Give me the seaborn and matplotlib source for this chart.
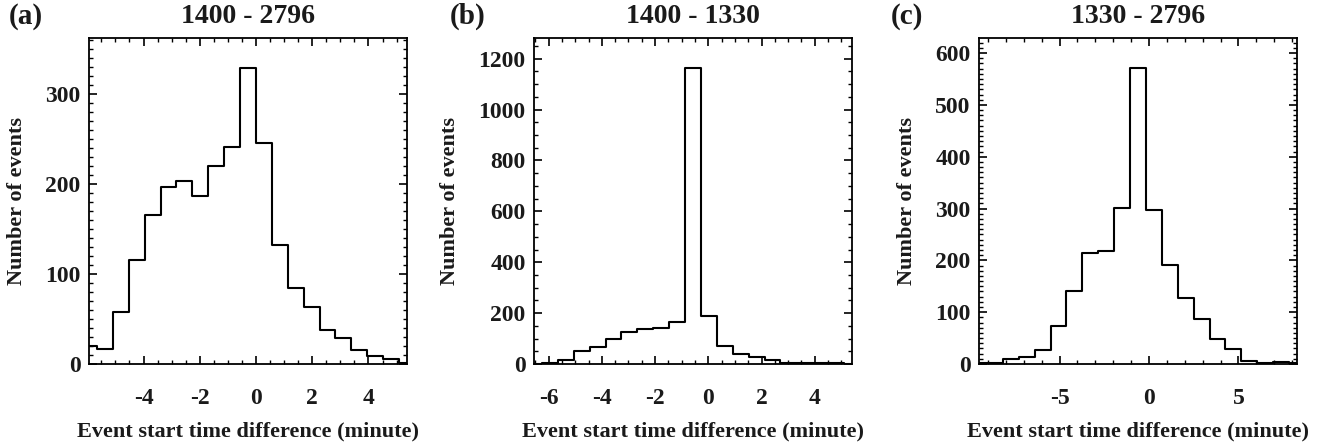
import numpy as np
import pandas as pd
import matplotlib
matplotlib.use("Agg")
import matplotlib.pyplot as plt
from matplotlib.ticker import MultipleLocator
import seaborn as sns

# ---- data (bin centres given by first/last centre, 21 bins each) ----
titles = ["1400 - 2796", "1400 - 1330", "1330 - 2796"]
panel_tags = ["(a)", "(b)", "(c)"]

range_a = (-5.94, 5.37)
counts_a = [20, 17, 58, 116, 165, 196, 203, 187, 220, 241, 329,
            245, 132, 84, 63, 38, 29, 16, 9, 5, 1]

range_b = (-6.55, 5.40)
counts_b = [1, 5, 17, 50, 65, 97, 125, 137, 143, 167, 1165,
            188, 72, 41, 28, 15, 4, 4, 3, 2, 1]

range_c = (-9.50, 8.27)
counts_c = [1, 2, 9, 13, 27, 73, 141, 215, 219, 302, 572,
            298, 191, 128, 86, 49, 28, 5, 1, 4, 1]

x_major = [2, 2, 5]
x_minor = [0.5, 0.5, 1]
y_major = [100, 200, 100]
y_minor = [10, 50, 10]

xlabel = "Event start time difference (minute)"
ylabel = "Number of events"

# ---- style ----
sns.set_style("ticks")
plt.rcParams["font.family"] = ["Liberation Serif", "DejaVu Serif"]
plt.rcParams["font.weight"] = "bold"
plt.rcParams["axes.labelweight"] = "bold"
plt.rcParams["axes.titleweight"] = "bold"
plt.rcParams["axes.unicode_minus"] = False
txt = "#1a1a1a"

fig = plt.figure(figsize=(13.34, 4.45), dpi=100)
W, H = 1334, 445
lefts = [89, 534, 979]
ax_w, ax_top, ax_bot = 318, 38, 364

ranges = [range_a, range_b, range_c]
counts = [counts_a, counts_b, counts_c]
tag_x = [9, 450, 891]

for i in range(3):
    ax = fig.add_axes([lefts[i] / W, 1 - ax_bot / H, ax_w / W, (ax_bot - ax_top) / H])
    lo, hi = ranges[i]
    cnt = np.array(counts[i], dtype=float)
    centres = np.linspace(lo, hi, len(cnt))
    df = pd.DataFrame({"x": centres, "n": cnt})
    sns.lineplot(data=df, x="x", y="n", ax=ax, color="black",
                 drawstyle="steps-mid", linewidth=1.5, sort=True)
    ax.set_xlim(lo, hi)
    ax.set_ylim(0, cnt.max() * 1.1)
    ax.xaxis.set_major_locator(MultipleLocator(x_major[i]))
    ax.xaxis.set_minor_locator(MultipleLocator(x_minor[i]))
    ax.yaxis.set_major_locator(MultipleLocator(y_major[i]))
    ax.yaxis.set_minor_locator(MultipleLocator(y_minor[i]))
    ax.tick_params(which="both", direction="in", top=True, right=True,
                   colors="black", labelcolor=txt)
    ax.tick_params(which="major", length=6, width=1.2, labelsize=17)
    ax.tick_params(which="minor", length=3, width=1.0)
    ax.tick_params(axis="x", which="major", pad=17)
    ax.tick_params(axis="y", which="major", pad=6)
    for s in ax.spines.values():
        s.set_linewidth(1.3)
        s.set_color("black")
    ax.set_xlabel(xlabel, fontsize=16, color=txt, labelpad=9)
    ax.set_ylabel(ylabel, fontsize=16, color=txt, labelpad=13)
    ax.set_title(titles[i], fontsize=20, color=txt, pad=11)
    fig.text(tag_x[i] / W, 1 - 24 / H, panel_tags[i], fontsize=21,
             fontweight="bold", color=txt, ha="left", va="baseline")
    for lab in ax.get_xticklabels() + ax.get_yticklabels():
        lab.set_fontweight("bold")

fig.savefig("out.png", dpi=100)
